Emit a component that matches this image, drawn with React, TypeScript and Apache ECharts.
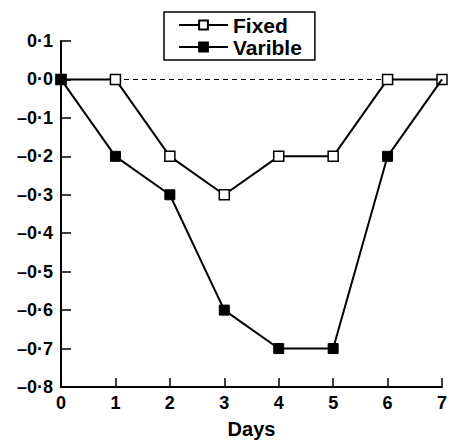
import React, { useEffect, useRef } from "react";
import * as echarts from "echarts";

const days = [0, 1, 2, 3, 4, 5, 6, 7];
const fixedValues = [0, 0, -0.2, -0.3, -0.2, -0.2, 0, 0];
const varibleValues = [0, -0.2, -0.3, -0.6, -0.7, -0.7, -0.2, 0];
const seriesNames = ["Fixed", "Varible"];
const xAxisName = "Days";

const fmtY = (v: number) => {
  const r = Math.round(v * 10) / 10;
  const s = Math.abs(r).toFixed(1).replace(".", "·");
  return r < 0 ? "–" + s : s;
};

export default function App() {
  const ref = useRef<HTMLDivElement>(null);
  useEffect(() => {
    const chart = echarts.init(ref.current!, undefined, { renderer: "svg" });
    const font = "'Liberation Sans', Arial, sans-serif";
    chart.setOption({
      animation: false,
      backgroundColor: "#ffffff",
      textStyle: { fontFamily: font },
      grid: { left: 61, right: 13, top: 41, bottom: 55, containLabel: false, outerBoundsMode: "none" },
      legend: {
        data: seriesNames,
        orient: "vertical",
        left: 164,
        top: 12,
        padding: [2, 13, 2, 14],
        itemGap: 0,
        itemWidth: 49,
        itemHeight: 11,
        borderColor: "#000",
        borderWidth: 1.5,
        textStyle: { fontSize: 21, lineHeight: 22, fontWeight: "bold", color: "#000", fontFamily: font },
      },
      xAxis: {
        type: "value",
        min: 0,
        max: 7,
        interval: 1,
        name: xAxisName,
        nameLocation: "middle",
        nameGap: 32,
        nameTextStyle: { fontSize: 20, fontWeight: "bold", color: "#000" },
        axisLine: { onZero: false, lineStyle: { color: "#000", width: 2 } },
        axisTick: { inside: true, length: 9, lineStyle: { color: "#000", width: 1.5 } },
        axisLabel: { fontSize: 18, fontWeight: "bold", color: "#000", margin: 7 },
        splitLine: { show: false },
      },
      yAxis: {
        type: "value",
        min: -0.8,
        max: 0.1,
        interval: 0.1,
        axisLine: { lineStyle: { color: "#000", width: 2 } },
        axisTick: { inside: true, length: 10, lineStyle: { color: "#000", width: 1.5 } },
        axisLabel: { fontSize: 18, fontWeight: "bold", color: "#000", margin: 8, formatter: fmtY },
        splitLine: { show: false },
      },
      series: [
        {
          name: seriesNames[0],
          type: "line",
          data: days.map((d, i) => [d, fixedValues[i]]),
          symbol: "rect",
          symbolSize: 10,
          z: 2,
          lineStyle: { color: "#000", width: 2 },
          itemStyle: { color: "#fff", borderColor: "#000", borderWidth: 1.5 },
          markLine: {
            silent: true,
            symbol: "none",
            label: { show: false },
            lineStyle: { color: "#000", width: 1, type: [5, 4] },
            data: [{ yAxis: 0 }],
            z: 1,
          },
        },
        {
          name: seriesNames[1],
          type: "line",
          data: days.map((d, i) =>
            i === days.length - 1
              ? { value: [d, varibleValues[i]], symbol: "none" }
              : [d, varibleValues[i]]
          ),
          symbol: "rect",
          symbolSize: 10,
          z: 3,
          lineStyle: { color: "#000", width: 2 },
          itemStyle: { color: "#000", borderColor: "#000", borderWidth: 1 },
        },
      ],
    });
    return () => chart.dispose();
  }, []);
  return <div ref={ref} style={{ width: 455, height: 442, position: "absolute", left: 0, top: 0 }} />;
}
